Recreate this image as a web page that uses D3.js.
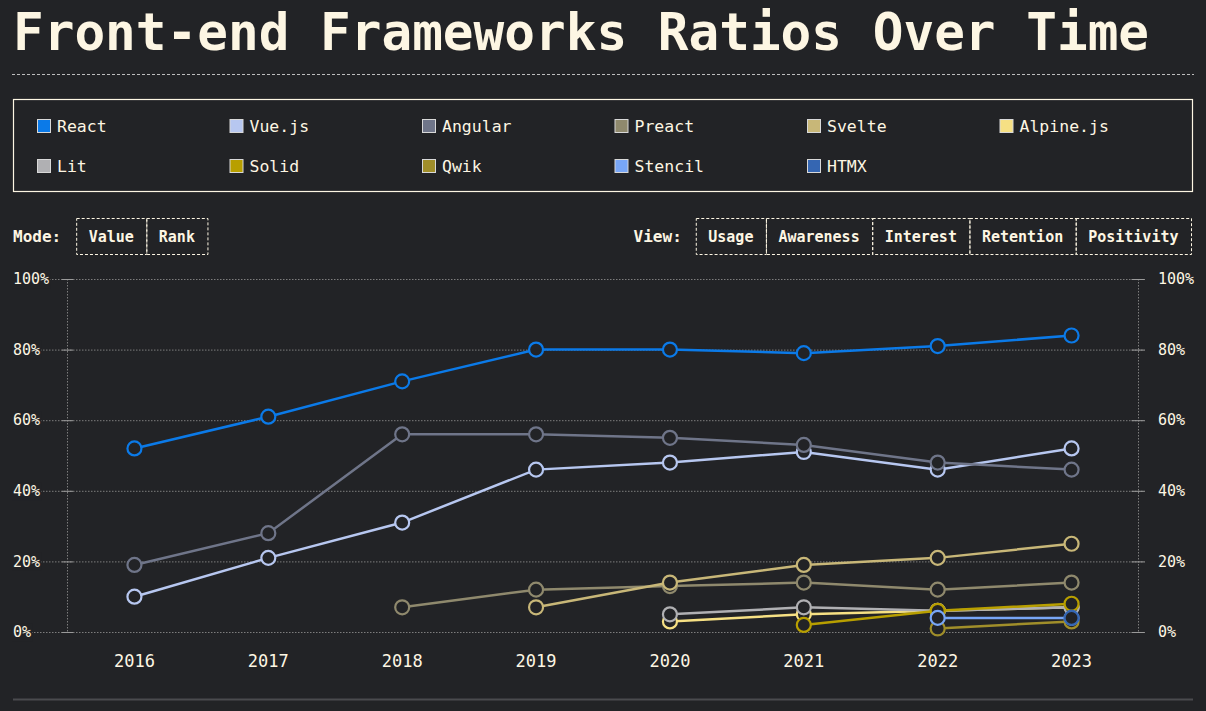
<!DOCTYPE html>
<html>
<head>
<meta charset="utf-8">
<script src="https://cdn.jsdelivr.net/npm/d3@7/dist/d3.min.js"></script>
<style>
  body { margin: 0; background: #222326; }
  svg { display: block; font-family: "DejaVu Sans Mono", monospace; }
</style>
</head>
<body>
<div id="chart"></div>
<script>
// Chart data
const years = [2016, 2017, 2018, 2019, 2020, 2021, 2022, 2023];
const frameworks = ['React', 'Vue.js', 'Angular', 'Preact', 'Svelte', 'Alpine.js',
                    'Lit', 'Solid', 'Qwik', 'Stencil', 'HTMX'];
const react   = [52, 61, 71, 80, 80, 79, 81, 84];
const vue     = [10, 21, 31, 46, 48, 51, 46, 52];
const angular = [19, 28, 56, 56, 55, 53, 48, 46];
const preact  = [null, null, 7, 12, 13, 14, 12, 14];
const svelte  = [null, null, null, 7, 14, 19, 21, 25];
const alpine  = [null, null, null, null, 3, 5, 6, 7];
const lit     = [null, null, null, null, 5, 7, 6, 7];
const solid   = [null, null, null, null, null, 2, 6, 8];
const qwik    = [null, null, null, null, null, null, 1, 3];
const stencil = [null, null, null, null, null, null, 4, 4];
const htmx    = [null, null, null, null, null, null, null, 4];
const seriesValues = [react, vue, angular, preact, svelte, alpine, lit, solid, qwik, stencil, htmx];
const yTicks = [0, 20, 40, 60, 80, 100];
const modeButtons = ['Value', 'Rank'];
const viewButtons = ['Usage', 'Awareness', 'Interest', 'Retention', 'Positivity'];

// Styling
const colors = ['#0b7ae8', '#b7c7f0', '#6f7589', '#8f896d', '#c8b778', '#f6e084',
                '#b0b0b3', '#b89f00', '#a08e2a', '#78a6f6', '#3566b2'];
const bg = '#222326';
const cream = '#fdf6e3';
const gridColor = '#7d7d7d';

const width = 1206, height = 711;
const svg = d3.select('#chart').append('svg')
    .attr('width', width)
    .attr('height', height);

// Title
svg.append('text')
    .attr('x', 13)
    .attr('y', 50)
    .attr('fill', cream)
    .attr('font-size', 51)
    .attr('font-weight', 'bold')
    .text('Front-end Frameworks Ratios Over Time');

svg.append('line')
    .attr('x1', 12).attr('x2', 1194)
    .attr('y1', 74.5).attr('y2', 74.5)
    .attr('stroke', '#bdbdbd')
    .attr('stroke-dasharray', '3,2');

// Legend box
svg.append('rect')
    .attr('x', 13.5).attr('y', 99.5)
    .attr('width', 1179).attr('height', 92)
    .attr('fill', 'none')
    .attr('stroke', cream)
    .attr('stroke-width', 1.2);

const legend = svg.append('g').attr('class', 'legend');
const legendItems = legend.selectAll('.legend-item')
    .data(frameworks)
    .join('g')
    .attr('class', 'legend-item')
    .attr('transform', (d, i) => `translate(${37 + (i % 6) * 192.5},${126 + Math.floor(i / 6) * 40})`);
legendItems.append('rect')
    .attr('x', 0.5).attr('y', -6.5)
    .attr('width', 13).attr('height', 13)
    .attr('fill', (d, i) => colors[i])
    .attr('stroke', '#d8d8d8')
    .attr('stroke-width', 1);
legendItems.append('text')
    .attr('x', 20)
    .attr('dy', '0.35em')
    .attr('fill', cream)
    .attr('font-size', 16.5)
    .text(d => d);

// Button groups
function buttonGroup(label, items, x0, alignRight) {
    const g = svg.append('g');
    const lab = g.append('text')
        .attr('y', 236.5)
        .attr('dy', '0.35em')
        .attr('fill', cream)
        .attr('font-size', 16)
        .attr('font-weight', 'bold')
        .text(label);
    const labW = lab.node().getComputedTextLength();
    const widths = items.map(t => t.length * 9.03 + 25);
    const total = d3.sum(widths);
    let start = alignRight ? x0 - total : x0 + labW + 15;
    lab.attr('x', alignRight ? start - 14 - labW : x0);
    let cx = start;
    items.forEach((t, i) => {
        g.append('rect')
            .attr('x', cx + 0.5).attr('y', 218.5)
            .attr('width', widths[i]).attr('height', 36)
            .attr('fill', 'none')
            .attr('stroke', cream)
            .attr('stroke-dasharray', '3,2');
        g.append('text')
            .attr('x', cx + widths[i] / 2)
            .attr('y', 236.5)
            .attr('dy', '0.35em')
            .attr('text-anchor', 'middle')
            .attr('fill', cream)
            .attr('font-size', 15)
            .attr('font-weight', 'bold')
            .text(t);
        cx += widths[i];
    });
}
buttonGroup('Mode:', modeButtons, 13, false);
buttonGroup('View:', viewButtons, 1191, true);

// Scales
const x = d3.scalePoint()
    .domain(years)
    .range([67.5, 1138.5])
    .padding(0.5);
const y = d3.scaleLinear()
    .domain([0, 100])
    .range([632, 279]);

const chart = svg.append('g').attr('class', 'chart');

// Gridlines
chart.append('g')
    .attr('class', 'grid')
    .attr('transform', 'translate(13,0)')
    .call(d3.axisRight(y).tickValues(yTicks).tickSize(1132).tickFormat(''))
    .call(g => g.select('.domain').remove())
    .call(g => g.selectAll('line')
        .attr('stroke', gridColor)
        .attr('stroke-dasharray', '1.5,1.5'));

// Vertical axis lines
[67.5, 1138.5].forEach(ax => {
    chart.append('line')
        .attr('x1', ax).attr('x2', ax)
        .attr('y1', y(100)).attr('y2', y(0))
        .attr('stroke', gridColor)
        .attr('stroke-dasharray', '1.5,1.5');
});

// Tick marks
chart.append('g')
    .attr('transform', 'translate(73,0)')
    .call(d3.axisLeft(y).tickValues(yTicks).tickSize(11).tickFormat(''))
    .call(g => g.select('.domain').remove())
    .call(g => g.selectAll('line').attr('stroke', '#9a9a9a'));
chart.append('g')
    .attr('transform', 'translate(1131.5,0)')
    .call(d3.axisRight(y).tickValues(yTicks).tickSize(13).tickFormat(''))
    .call(g => g.select('.domain').remove())
    .call(g => g.selectAll('line').attr('stroke', '#9a9a9a'));

// Y labels, left (with background knock-out) and right
const leftLabels = chart.append('g').selectAll('g')
    .data(yTicks)
    .join('g')
    .attr('transform', d => `translate(13,${y(d)})`);
leftLabels.append('rect').attr('fill', bg);
leftLabels.append('text')
    .attr('dy', '0.35em')
    .attr('fill', cream)
    .attr('font-size', 15)
    .text(d => d + '%');
leftLabels.each(function () {
    const bb = d3.select(this).select('text').node().getBBox();
    d3.select(this).select('rect')
        .attr('x', bb.x - 1).attr('y', bb.y)
        .attr('width', bb.width + 2).attr('height', bb.height);
});
chart.append('g').selectAll('text')
    .data(yTicks)
    .join('text')
    .attr('x', 1158)
    .attr('y', d => y(d))
    .attr('dy', '0.35em')
    .attr('fill', cream)
    .attr('font-size', 15)
    .text(d => d + '%');

// X labels
chart.append('g').selectAll('text')
    .data(years)
    .join('text')
    .attr('x', d => x(d))
    .attr('y', 667)
    .attr('text-anchor', 'middle')
    .attr('fill', cream)
    .attr('font-size', 17)
    .text(d => d);

// Series
const line = d3.line()
    .defined(d => d.v != null)
    .x(d => x(d.year))
    .y(d => y(d.v));

seriesValues.forEach((vals, i) => {
    const pts = years.map((yr, j) => ({ year: yr, v: vals[j] }));
    const g = chart.append('g').attr('class', 'series');
    g.append('path')
        .datum(pts)
        .attr('d', line)
        .attr('fill', 'none')
        .attr('stroke', colors[i])
        .attr('stroke-width', 2.5);
    g.selectAll('circle')
        .data(pts.filter(d => d.v != null))
        .join('circle')
        .attr('cx', d => x(d.year))
        .attr('cy', d => y(d.v))
        .attr('r', 7)
        .attr('fill', bg)
        .attr('stroke', colors[i])
        .attr('stroke-width', 2.2);
});

// Bottom rule
svg.append('line')
    .attr('x1', 13).attr('x2', 1193)
    .attr('y1', 699.5).attr('y2', 699.5)
    .attr('stroke', '#4a4b4e')
    .attr('stroke-width', 2);
</script>
</body>
</html>
